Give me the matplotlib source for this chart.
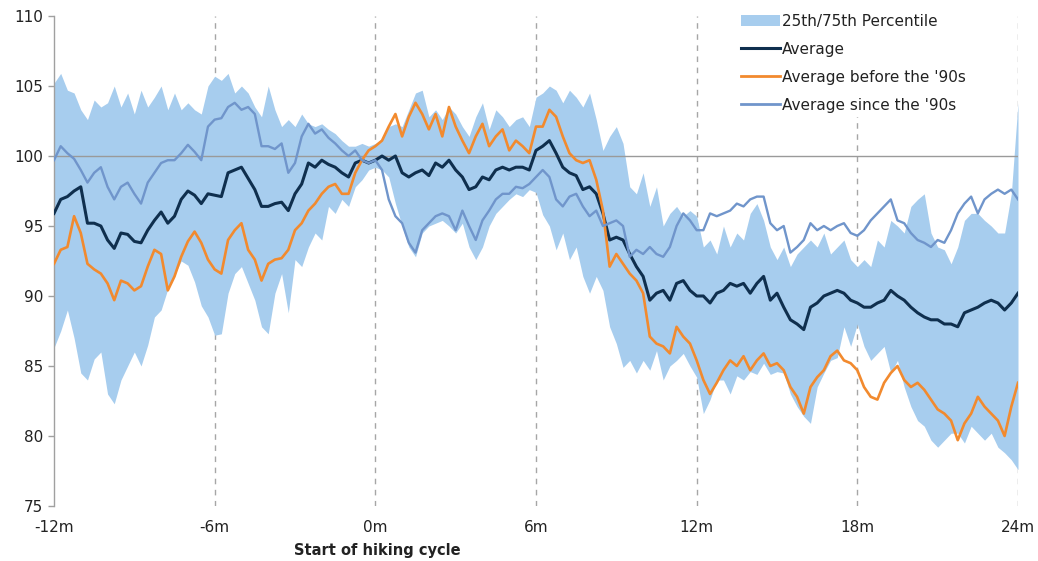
import numpy as np
import matplotlib
matplotlib.use("Agg")
import matplotlib.pyplot as plt
from matplotlib.patches import Patch
from matplotlib.lines import Line2D

# Index level around the start of a hiking cycle, quarter-month steps from -12m to +24m
months = np.linspace(-12, 24, 145)

average = [
    95.9, 96.9, 97.1, 97.5, 97.8, 95.2, 95.2, 95.0, 94.0, 93.4, 94.5, 94.4, 93.9, 93.8, 94.7,
    95.4, 96.0, 95.2, 95.7, 96.9, 97.5, 97.2, 96.6, 97.3, 97.2,
    97.1, 98.8, 99.0, 99.2, 98.4, 97.6, 96.4, 96.4, 96.6, 96.7, 96.1, 97.3, 98.0, 99.5, 99.2,
    99.7, 99.4, 99.2, 98.8, 98.5, 99.5, 99.7, 99.5, 99.7,
    100.0, 99.7, 100.0, 98.8, 98.5, 98.8, 99.0, 98.6, 99.5, 99.2, 99.7, 99.0, 98.5, 97.6, 97.8,
    98.5, 98.3, 99.0, 99.2, 99.0, 99.2, 99.2, 99.0, 100.4,
    100.7, 101.1, 100.2, 99.2, 98.8, 98.6, 97.6, 97.8, 97.3, 95.9, 94.0, 94.2, 94.0, 93.0, 92.1,
    91.4, 89.7, 90.2, 90.4, 89.7, 90.9, 91.1, 90.4, 90.0,
    90.0, 89.5, 90.2, 90.4, 90.9, 90.7, 90.9, 90.2, 90.9, 91.4, 89.7, 90.2, 89.2, 88.3, 88.0,
    87.6, 89.2, 89.5, 90.0, 90.2, 90.4, 90.2, 89.7, 89.5,
    89.2, 89.2, 89.5, 89.7, 90.4, 90.0, 89.7, 89.2, 88.8, 88.5, 88.3, 88.3, 88.0, 88.0, 87.8,
    88.8, 89.0, 89.2, 89.5, 89.7, 89.5, 89.0, 89.5, 90.2,
]

before_90s = [
    92.3, 93.3, 93.5, 95.7, 94.5, 92.3, 91.9, 91.6, 90.9, 89.7, 91.1, 90.9, 90.4, 90.7, 92.1,
    93.3, 93.0, 90.4, 91.4, 92.8, 93.9, 94.6, 93.8, 92.6, 91.9,
    91.6, 94.0, 94.7, 95.2, 93.3, 92.6, 91.1, 92.3, 92.6, 92.7, 93.3, 94.7, 95.2, 96.1, 96.6,
    97.3, 97.8, 98.0, 97.3, 97.3, 98.8, 99.7, 100.4, 100.7,
    101.1, 102.1, 103.0, 101.4, 102.8, 103.8, 103.0, 101.9, 103.0, 101.4, 103.5, 102.1, 101.1, 100.2, 101.4,
    102.3, 100.7, 101.4, 101.9, 100.4, 101.1, 100.7, 100.2, 102.1,
    102.1, 103.3, 102.8, 101.4, 100.2, 99.7, 99.5, 99.7, 98.3, 96.1, 92.1, 93.0, 92.3, 91.6, 91.1,
    90.2, 87.1, 86.6, 86.4, 85.9, 87.8, 87.1, 86.6, 85.4,
    84.0, 83.0, 83.8, 84.7, 85.4, 85.0, 85.7, 84.7, 85.4, 85.9, 85.0, 85.2, 84.7, 83.5, 82.8,
    81.6, 83.5, 84.2, 84.7, 85.7, 86.1, 85.4, 85.2, 84.7,
    83.5, 82.8, 82.6, 83.8, 84.5, 85.0, 84.0, 83.5, 83.8, 83.3, 82.6, 81.9, 81.6, 81.1, 79.7,
    80.9, 81.6, 82.8, 82.1, 81.6, 81.1, 80.0, 82.1, 83.8,
]

since_90s = [
    99.7, 100.7, 100.2, 99.8, 99.0, 98.1, 98.8, 99.2, 97.8, 96.9, 97.8, 98.1, 97.3, 96.6, 98.1,
    98.8, 99.5, 99.7, 99.7, 100.2, 100.8, 100.3, 99.7, 102.1, 102.6,
    102.7, 103.5, 103.8, 103.3, 103.5, 103.0, 100.7, 100.7, 100.5, 100.9, 98.8, 99.5, 101.4, 102.3, 101.6,
    101.9, 101.3, 100.9, 100.4, 100.0, 100.4, 99.7, 99.5, 99.7,
    99.0, 96.9, 95.7, 95.2, 93.8, 93.1, 94.7, 95.2, 95.7, 95.9, 95.7, 94.7, 96.1, 95.0, 94.0,
    95.4, 96.1, 96.9, 97.3, 97.3, 97.8, 97.7, 98.0, 98.5,
    99.0, 98.5, 96.9, 96.4, 97.1, 97.3, 96.4, 95.7, 96.1, 95.0, 95.2, 95.4, 95.0, 92.8, 93.3,
    93.0, 93.5, 93.0, 92.8, 93.5, 95.0, 95.9, 95.4, 94.7,
    94.7, 95.9, 95.7, 95.9, 96.1, 96.6, 96.4, 96.9, 97.1, 97.1, 95.2, 94.7, 95.0, 93.1, 93.5,
    94.0, 95.2, 94.7, 95.0, 94.7, 95.0, 95.2, 94.5, 94.3,
    94.7, 95.4, 95.9, 96.4, 96.9, 95.4, 95.2, 94.5, 94.0, 93.8, 93.5, 94.0, 93.8, 94.7, 95.9,
    96.6, 97.1, 95.9, 96.9, 97.3, 97.6, 97.3, 97.6, 96.9,
]

pct_75 = [
    105.2, 105.9, 104.7, 104.5, 103.3, 102.6, 104.0, 103.5, 103.8, 105.0, 103.5, 104.5, 103.0, 104.7, 103.5,
    104.2, 105.0, 103.3, 104.5, 103.3, 103.8, 103.3, 103.0, 105.0, 105.7,
    105.4, 105.9, 104.5, 105.0, 104.5, 103.5, 102.8, 105.0, 103.3, 102.1, 102.6, 102.1, 103.0, 102.3, 102.1,
    102.3, 101.9, 101.6, 101.1, 100.7, 100.7, 100.9, 100.7, 100.9,
    101.2, 102.1, 102.3, 102.1, 103.3, 104.5, 104.7, 102.8, 103.3, 102.6, 103.5, 103.0, 102.1, 101.4, 102.8,
    103.8, 101.9, 103.3, 102.8, 102.1, 102.6, 102.8, 102.1, 104.2,
    104.5, 105.0, 104.7, 103.8, 104.7, 104.2, 103.5, 104.5, 102.6, 100.4, 101.4, 102.1, 100.9, 97.8, 97.3,
    98.8, 96.4, 97.8, 95.0, 95.9, 96.4, 95.7, 96.1, 95.7,
    93.5, 94.0, 93.0, 95.0, 93.5, 94.5, 94.0, 95.9, 96.6, 95.4, 93.5, 92.6, 93.5, 92.1, 93.0,
    93.5, 94.0, 93.5, 94.5, 93.0, 93.5, 94.0, 92.6, 92.1,
    92.6, 92.1, 94.0, 93.5, 95.4, 95.0, 94.5, 96.4, 96.9, 97.3, 94.5, 93.5, 93.3, 92.3, 93.5,
    95.4, 95.9, 95.9, 95.4, 95.0, 94.5, 94.5, 97.3, 103.8,
]

pct_25 = [
    86.3, 87.5, 89.0, 87.0, 84.5, 84.0, 85.5, 86.0, 83.0, 82.3, 84.0, 85.0, 86.0, 85.0, 86.5,
    88.5, 89.0, 90.5, 91.5, 92.5, 92.2, 91.0, 89.3, 88.5, 87.2,
    87.3, 90.2, 91.6, 92.1, 90.9, 89.7, 87.8, 87.3, 90.2, 91.6, 88.8, 92.6, 92.1, 93.5, 94.5,
    94.0, 96.4, 95.9, 96.9, 96.4, 97.8, 98.3, 99.0, 99.2,
    99.0, 98.5, 96.6, 95.0, 93.5, 92.8, 94.5, 95.0, 95.2, 95.4, 95.0, 94.5, 95.2, 93.5, 92.6,
    93.5, 95.0, 95.9, 96.4, 96.9, 97.3, 97.1, 97.6, 97.4,
    95.8, 95.0, 93.3, 94.5, 92.6, 93.5, 91.4, 90.2, 91.4, 90.4, 87.8, 86.6, 84.9, 85.4, 84.5,
    85.4, 84.7, 86.1, 84.0, 85.0, 85.4, 85.9, 85.0, 84.2,
    81.6, 82.6, 84.0, 84.0, 83.0, 84.3, 84.0, 84.6, 84.4, 85.2, 84.4, 84.6, 84.5, 83.0, 82.1,
    81.4, 80.9, 83.5, 84.5, 85.4, 85.6, 87.8, 86.4, 88.0,
    86.4, 85.4, 85.9, 86.4, 84.5, 85.4, 83.5, 82.1, 81.1, 80.7, 79.7, 79.2, 79.7, 80.2, 80.2,
    79.5, 80.7, 80.2, 79.7, 80.2, 79.2, 78.8, 78.3, 77.6,
]

for series in (average, before_90s, since_90s, pct_75, pct_25):
    assert len(series) == len(months)

x_ticks = [-12, -6, 0, 6, 12, 18, 24]
x_tick_labels = ["-12m", "-6m", "0m", "6m", "12m", "18m", "24m"]
y_ticks = [75, 80, 85, 90, 95, 100, 105, 110]

BAND = "#a7cdee"
NAVY = "#0f2f4e"
ORANGE = "#f28a2e"
STEEL = "#7095cb"
GRID = "#a6a6a6"
TEXT = "#222222"

plt.rcParams["font.family"] = ["DejaVu Sans"]

fig = plt.figure(figsize=(10.38, 5.61), dpi=100)
W, H = 1038, 561
ax = fig.add_axes([54 / W, 1 - 506 / H, (1018 - 54) / W, (506 - 16) / H])

ax.fill_between(months, pct_25, pct_75, color=BAND, linewidth=0, zorder=1)
for m in x_ticks[1:]:
    ax.axvline(m, color=GRID, lw=1.0, ls=(0, (4, 4)), zorder=0.5)
ax.axhline(100, color="#9a9a9a", lw=1.0, zorder=2)

ax.plot(months, average, color=NAVY, lw=2.2, zorder=3)
ax.plot(months, before_90s, color=ORANGE, lw=1.9, zorder=4)
ax.plot(months, since_90s, color=STEEL, lw=1.7, zorder=5)

ax.set_xlim(-12, 24)
ax.set_ylim(75, 110)
ax.set_xticks(x_ticks)
ax.set_xticklabels(x_tick_labels)
ax.set_yticks(y_ticks)

for side in ("top", "right", "bottom"):
    ax.spines[side].set_visible(False)
ax.spines["left"].set_color("#a0a0a0")
ax.spines["left"].set_linewidth(1.0)

ax.tick_params(axis="y", direction="out", length=4, width=1, color="#a0a0a0",
               labelsize=11, labelcolor=TEXT, pad=4)
ax.tick_params(axis="x", length=0, labelsize=11, labelcolor=TEXT, pad=10)

fig.text(377 / W, 1 - 550 / H, "Start of hiking cycle", ha="center", va="center",
         fontsize=10.5, fontweight="bold", color=TEXT)

handles = [
    Patch(facecolor=BAND, edgecolor="none"),
    Line2D([], [], color=NAVY, lw=2.2),
    Line2D([], [], color=ORANGE, lw=2.0),
    Line2D([], [], color=STEEL, lw=2.0),
]
labels = ["25th/75th Percentile", "Average", "Average before the '90s", "Average since the '90s"]
leg = ax.legend(handles, labels, loc="upper left",
                bbox_to_anchor=(736 / W, 1 - 9 / H), bbox_transform=fig.transFigure,
                fontsize=11, frameon=True, facecolor="white", edgecolor="none", framealpha=1,
                borderpad=0.3, borderaxespad=0, handlelength=2.55, handletextpad=0.15,
                labelspacing=0.85, fancybox=False)
leg.set_zorder(10)
for t in leg.get_texts():
    t.set_color(TEXT)

fig.savefig("out.png", dpi=100, facecolor="white")
